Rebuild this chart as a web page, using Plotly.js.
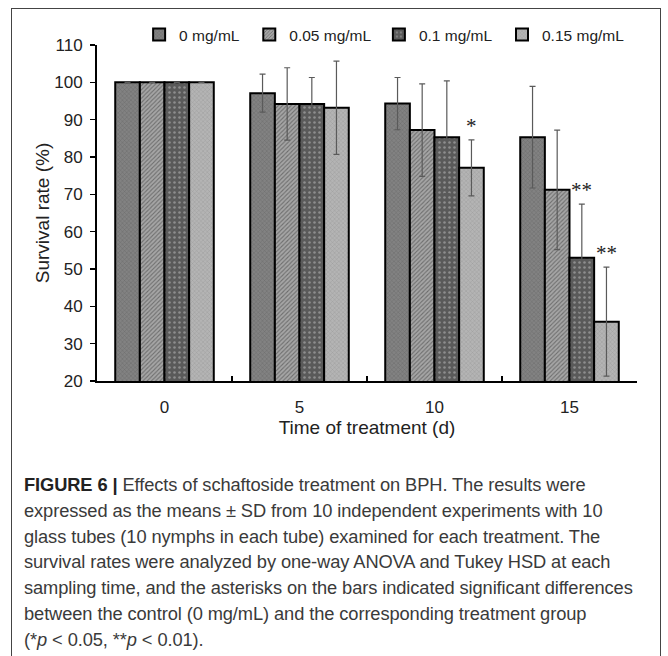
<!DOCTYPE html>
<html>
<head>
<meta charset="utf-8">
<script src="https://cdn.plot.ly/plotly-3.0.1.min.js"></script>
<style>
  html, body { margin: 0; padding: 0; background: #fff; width: 668px; height: 656px; overflow: hidden; }
  #frame { position: absolute; left: 11px; top: 8px; width: 650px; height: 700px; border: 1px solid #444; box-sizing: border-box; }
  #chart { position: absolute; left: 0; top: 0; width: 668px; height: 460px; }
  #caption { position: absolute; left: 24px; top: 472px; font-family: "Liberation Sans", Arial, sans-serif; font-size: 18.3px; line-height: 25.8px; color: #3a3a3a; white-space: nowrap; letter-spacing: -0.1px; }
  #caption b { color: #222; }
</style>
</head>
<body>
<div id="frame"></div>
<div id="chart"></div>
<div id="caption">
<b>FIGURE 6 |</b> Effects of schaftoside treatment on BPH. The results were<br>
expressed as the means &plusmn; SD from 10 independent experiments with 10<br>
glass tubes (10 nymphs in each tube) examined for each treatment. The<br>
survival rates were analyzed by one-way ANOVA and Tukey HSD at each<br>
sampling time, and the asterisks on the bars indicated significant differences<br>
between the control (0 mg/mL) and the corresponding treatment group<br>
(*<i>p</i> &lt; 0.05, **<i>p</i> &lt; 0.01).
</div>
<script>
// ---- data ----
const days = ['0', '5', '10', '15'];
const seriesNames = ['0 mg/mL', '0.05 mg/mL', '0.1 mg/mL', '0.15 mg/mL'];
const rate0    = [100, 97.1, 94.3, 85.3];
const rate005  = [100, 94.2, 87.2, 71.2];
const rate01   = [100, 94.2, 85.3, 53.0];
const rate015  = [100, 93.2, 77.1, 35.9];
const sd0      = [0, 5.1, 7.0, 13.6];
const sd005    = [0, 9.7, 12.4, 16.0];
const sd01     = [0, 7.1, 15.1, 14.4];
const sd015    = [0, 12.5, 7.5, 14.6];
const sig0     = ['', '', '', ''];
const sig005   = ['', '', '', ''];
const sig01    = ['', '', '', '**'];
const sig015   = ['', '', '*', '**'];

const rates = [rate0, rate005, rate01, rate015];
const sds = [sd0, sd005, sd01, sd015];
const sigs = [sig0, sig005, sig01, sig015];

// ---- styles ----
const patterns = [
  { shape: 'x', bgcolor: '#828282', fgcolor: '#666666', size: 3, solidity: 0.25 },
  { shape: '/', bgcolor: '#a6a6a6', fgcolor: '#6e6e6e', size: 3, solidity: 0.35 },
  { shape: '.', bgcolor: '#5a5a5a', fgcolor: '#8e8e8e', size: 5, solidity: 0.2 },
  { shape: 'x', bgcolor: '#b4b4b4', fgcolor: '#9a9a9a', size: 3, solidity: 0.25 }
];
const legendIds = ['legend', 'legend2', 'legend3', 'legend4'];
const bargap = 0.27;

const traces = seriesNames.map((name, j) => ({
  type: 'bar',
  name: name,
  x: days,
  y: rates[j],
  legend: legendIds[j],
  marker: { color: patterns[j].bgcolor, line: { color: '#000', width: 2 }, pattern: Object.assign({ fillmode: 'replace' }, patterns[j]) },
  error_y: { type: 'data', array: sds[j], visible: true, color: '#5a5a5a', thickness: 1.2, width: 3 },
  hoverinfo: 'skip'
}));

// significance annotations placed over the matching grouped bar
const annotations = [];
const nSeries = seriesNames.length;
const barW = (1 - bargap) / nSeries;
sigs.forEach((arr, j) => {
  arr.forEach((s, i) => {
    if (!s) return;
    annotations.push({
      xref: 'x', yref: 'y',
      x: i + (j - (nSeries - 1) / 2) * barW,
      y: rates[j][i] + sds[j][i] + 3.8,
      text: s, showarrow: false, yanchor: 'middle', xanchor: 'center',
      font: { family: 'Liberation Serif, serif', size: 21, color: '#222' }
    });
  });
});

const legendX = [0.078, 0.282, 0.522, 0.750];
const legendFont = { family: 'Liberation Sans, Arial, sans-serif', size: 15.5, color: '#222' };
const layout = {
  width: 668, height: 460,
  margin: { l: 97, r: 31, t: 45, b: 79 },
  paper_bgcolor: 'rgba(0,0,0,0)', plot_bgcolor: 'rgba(0,0,0,0)',
  barmode: 'group', bargap: bargap, bargroupgap: 0,
  font: { family: 'Liberation Sans, Arial, sans-serif', color: '#222' },
  xaxis: {
    type: 'category', showgrid: false, zeroline: false,
    showline: true, linecolor: '#000', linewidth: 2,
    ticks: 'inside', tickson: 'boundaries', ticklen: 5, tickwidth: 1.5, tickcolor: '#000',
    tickfont: { size: 17, color: '#222' }, ticklabelstandoff: 10,
    title: { text: 'Time of treatment (d)', font: { size: 19, color: '#222' }, standoff: 0 }
  },
  yaxis: {
    range: [20, 110], dtick: 10, showgrid: false, zeroline: false,
    showline: true, linecolor: '#000', linewidth: 2,
    ticks: 'outside', ticklen: 5, tickwidth: 1.5, tickcolor: '#000',
    tickfont: { size: 17, color: '#222' }, ticklabelstandoff: 4,
    title: { text: 'Survival rate (%)', font: { size: 19, color: '#222' }, standoff: 0 }
  },
  annotations: annotations,
  showlegend: true
};
legendIds.forEach((id, j) => {
  layout[id] = { orientation: 'h', x: legendX[j], xanchor: 'left', y: 1.03, yanchor: 'middle', font: legendFont, bgcolor: 'rgba(0,0,0,0)' };
});

Plotly.newPlot('chart', traces, layout, { displayModeBar: false, staticPlot: true });
</script>
</body>
</html>
